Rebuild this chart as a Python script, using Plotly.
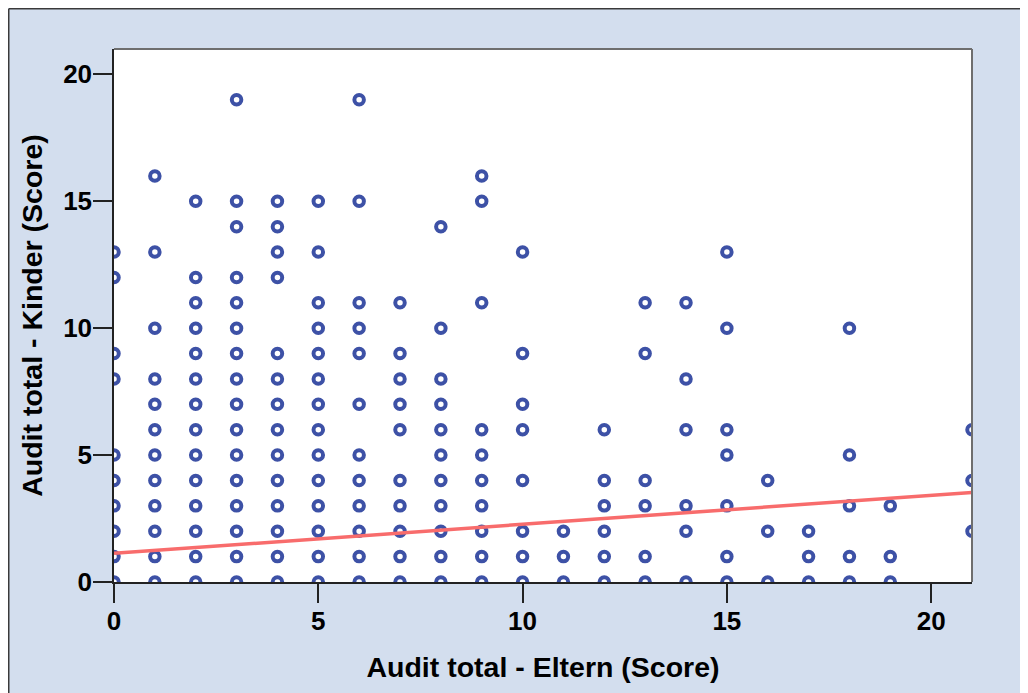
import plotly.graph_objects as go

# Audit total - Eltern (x) levels and the Kinder (y) scores observed at each level
eltern_levels = [0, 1, 2, 3, 4, 5, 6, 7, 8, 9, 10, 11, 12, 13, 14, 15, 16, 17, 18, 19, 21]
kinder_at_0 = [13, 12, 9, 8, 5, 4, 3, 2, 1, 0]
kinder_at_1 = [16, 13, 10, 8, 7, 6, 5, 4, 3, 2, 1, 0]
kinder_at_2 = [15, 12, 11, 10, 9, 8, 7, 6, 5, 4, 3, 2, 1, 0]
kinder_at_3 = [19, 15, 14, 12, 11, 10, 9, 8, 7, 6, 5, 4, 3, 2, 1, 0]
kinder_at_4 = [15, 14, 13, 12, 9, 8, 7, 6, 5, 4, 3, 2, 1, 0]
kinder_at_5 = [15, 13, 11, 10, 9, 8, 7, 6, 5, 4, 3, 2, 1, 0]
kinder_at_6 = [19, 15, 11, 10, 9, 7, 5, 4, 3, 2, 1, 0]
kinder_at_7 = [11, 9, 8, 7, 6, 4, 3, 2, 1, 0]
kinder_at_8 = [14, 10, 8, 7, 6, 5, 4, 3, 2, 1, 0]
kinder_at_9 = [16, 15, 11, 6, 5, 4, 3, 2, 1, 0]
kinder_at_10 = [13, 9, 7, 6, 4, 2, 1, 0]
kinder_at_11 = [2, 1, 0]
kinder_at_12 = [6, 4, 3, 2, 1, 0]
kinder_at_13 = [11, 9, 4, 3, 1, 0]
kinder_at_14 = [11, 8, 6, 3, 2, 0]
kinder_at_15 = [13, 10, 6, 5, 3, 1, 0]
kinder_at_16 = [4, 2, 0]
kinder_at_17 = [2, 1, 0]
kinder_at_18 = [10, 5, 3, 1, 0]
kinder_at_19 = [3, 1, 0]
kinder_at_21 = [6, 4, 2]

kinder_columns = [kinder_at_0, kinder_at_1, kinder_at_2, kinder_at_3, kinder_at_4,
                  kinder_at_5, kinder_at_6, kinder_at_7, kinder_at_8, kinder_at_9,
                  kinder_at_10, kinder_at_11, kinder_at_12, kinder_at_13, kinder_at_14,
                  kinder_at_15, kinder_at_16, kinder_at_17, kinder_at_18, kinder_at_19,
                  kinder_at_21]

# Linear fit line
fit_x = [0, 21]
fit_y = [1.13, 3.53]

tick_vals = [0, 5, 10, 15, 20]
tick_text = ["0", "5", "10", "15", "20"]

x_title = "Audit total - Eltern (Score)"
y_title = "Audit total - Kinder (Score)"

xs, ys = [], []
for lvl, col in zip(eltern_levels, kinder_columns):
    for v in col:
        xs.append(lvl)
        ys.append(v)

FONT = "Liberation Sans, Arial, sans-serif"
BG = "#d3deee"
W, H = 1020, 685
ML, MR, MT, MB = 106, 56, 41, 111
PW, PH = W - ML - MR, H - MT - MB

def px_x(p):
    return (p - ML) / PW

def px_y(p):
    return (H - MB - p) / PH

fig = go.Figure()
fig.add_trace(go.Scatter(
    x=xs, y=ys, mode="markers",
    marker=dict(symbol="circle-open", size=9.5, color="#3d51a6", line=dict(width=4, color="#3d51a6")),
    showlegend=False, hoverinfo="x+y",
))
fig.add_trace(go.Scatter(
    x=fit_x, y=fit_y, mode="lines",
    line=dict(color="#f86c6c", width=3.5),
    showlegend=False,
))

axis_common = dict(
    showgrid=False, zeroline=False,
    showline=True, linecolor="#222222", linewidth=1.5,
    ticks="outside", ticklen=19, tickwidth=1.5, tickcolor="#222222",
    ticklabelstandoff=-4,
    tickvals=tick_vals, ticktext=tick_text,
    tickfont=dict(family=FONT, size=26, color="#000000", weight="bold"),
)

fig.update_layout(
    width=W, height=H,
    margin=dict(l=ML, r=MR, t=MT, b=MB, autoexpand=False),
    paper_bgcolor=BG, plot_bgcolor="#ffffff",
    xaxis=dict(range=[0, 21], **axis_common,
               title=dict(text=x_title, standoff=22,
                          font=dict(family=FONT, size=28.5, color="#000000", weight="bold"))),
    yaxis=dict(range=[0, 21], **axis_common,
               title=dict(text=y_title, standoff=12,
                          font=dict(family=FONT, size=28.5, color="#000000", weight="bold"))),
    shapes=[
        # plot frame top & right
        dict(type="line", xref="paper", yref="paper", x0=0, x1=1, y0=1, y1=1,
             line=dict(color="#6e6e6e", width=2)),
        dict(type="line", xref="paper", yref="paper", x0=1, x1=1, y0=0, y1=1,
             line=dict(color="#6e6e6e", width=2)),
        # outer chart frame (top & left)
        dict(type="line", xref="paper", yref="paper", x0=px_x(0.75), x1=px_x(W + 5),
             y0=px_y(0.75), y1=px_y(0.75), line=dict(color="#3a3a3a", width=1.5)),
        dict(type="line", xref="paper", yref="paper", x0=px_x(0.75), x1=px_x(0.75),
             y0=px_y(H + 5), y1=px_y(0.75), line=dict(color="#3a3a3a", width=1.5)),
    ],
)

fig.write_html("out.html")
